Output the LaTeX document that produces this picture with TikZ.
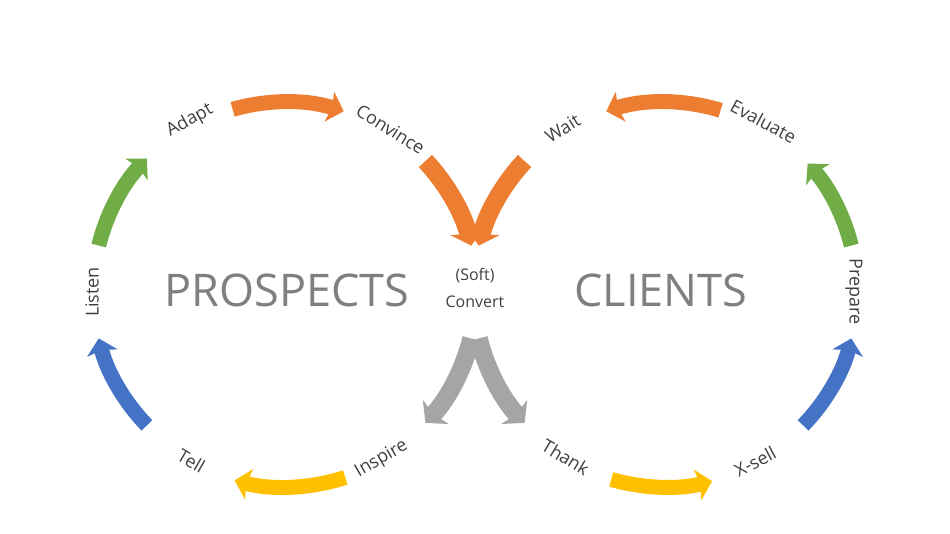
\documentclass[tikz,border=0pt]{standalone}
\usepackage{fontspec}
\setmainfont{Open Sans}
\usetikzlibrary{arrows.meta}
\definecolor{corange}{HTML}{ED7D31}
\definecolor{cgreen}{HTML}{70AD47}
\definecolor{cblue}{HTML}{4472C4}
\definecolor{cyellow}{HTML}{FFC000}
\definecolor{cgrey}{HTML}{A5A5A5}
\definecolor{labelgray}{HTML}{404040}
\definecolor{biggray}{HTML}{7F7F7F}
\begin{document}
\begin{tikzpicture}[x=1pt,y=1pt,
  arr/.style={line width=15pt, -{Stealth[length=15pt,width=31pt,inset=3pt]}},
  varr/.style={line width=18pt, -{Stealth[length=15pt,width=35pt,inset=3pt]}},
  lbl/.style={font=\fontsize{18}{20}\selectfont, text=labelgray, inner sep=0pt},
  big/.style={font=\fontsize{45}{50}\selectfont, text=biggray, inner sep=0pt},
  mid/.style={font=\fontsize{16}{27}\selectfont, text=labelgray, inner sep=0pt, align=center}]
\fill[white] (0,0) rectangle (950,534);
\useasboundingbox (0,0) rectangle (950,534);
\coordinate (L) at (285,242);
\coordinate (R) at (665,242);
% centre texts
\node[big] (prospects) at (287,244) {PROSPECTS};
\node[big] (clients) at (661,244) {CLIENTS};
\node[mid] (convert) at (475,246) {(Soft)\\Convert};
% left circle labels
\node[lbl, rotate=90]  (listen)   at ([shift={(180:193)}]L) {Listen};
\node[lbl, rotate=29]  (adapt)    at ([shift={(119:196)}]L) {Adapt};
\node[lbl, rotate=-32] (convince) at ([shift={(57:194)}]L) {Convince};
\node[lbl, rotate=30]  (inspire)  at ([shift={(-60:193)}]L) {Inspire};
\node[lbl, rotate=-30] (tell)     at ([shift={(-119:193)}]L) {Tell};
% right circle labels
\node[lbl, rotate=32]  (wait)     at ([shift={(122:193)}]R) {Wait};
\node[lbl, rotate=-28] (evaluate) at ([shift={(60:197)}]R) {Evaluate};
\node[lbl, rotate=-90] (prepare)  at ([shift={(0:189)}]R) {Prepare};
\node[lbl, rotate=28]  (xsell)    at ([shift={(-62:192)}]R) {X-sell};
\node[lbl, rotate=-31] (thank)    at ([shift={(-121:193)}]R) {Thank};
% left circle arrows
\draw[arr, cgreen]  ([shift={(166:192)}]L) arc[start angle=166, end angle=136, radius=192];
\draw[arr, corange] ([shift={(106:190)}]L) arc[start angle=106, end angle=72, radius=190];
\draw[varr, corange] ([shift={(43:192)}]L) arc[start angle=43, end angle=14, radius=192];
\draw[varr, cgrey] ([shift={(-14:192)}]L) arc[start angle=-14, end angle=-43, radius=192];
\draw[arr, cyellow] ([shift={(-72:195)}]L) arc[start angle=-72, end angle=-105, radius=195];
\draw[arr, cblue]   ([shift={(-136:192)}]L) arc[start angle=-136, end angle=-166, radius=192];
% right circle arrows
\draw[arr, corange] ([shift={(73:190)}]R) arc[start angle=73, end angle=108, radius=190];
\draw[varr, corange] ([shift={(137:192)}]R) arc[start angle=137, end angle=166, radius=192];
\draw[varr, cgrey] ([shift={(194:192)}]R) arc[start angle=194, end angle=223, radius=192];
\draw[arr, cyellow] ([shift={(254:195)}]R) arc[start angle=254, end angle=284, radius=195];
\draw[arr, cblue]   ([shift={(-44:192)}]R) arc[start angle=-44, end angle=-14, radius=192];
\draw[arr, cgreen]  ([shift={(14:192)}]R) arc[start angle=14, end angle=42, radius=192];
\end{tikzpicture}
\end{document}
